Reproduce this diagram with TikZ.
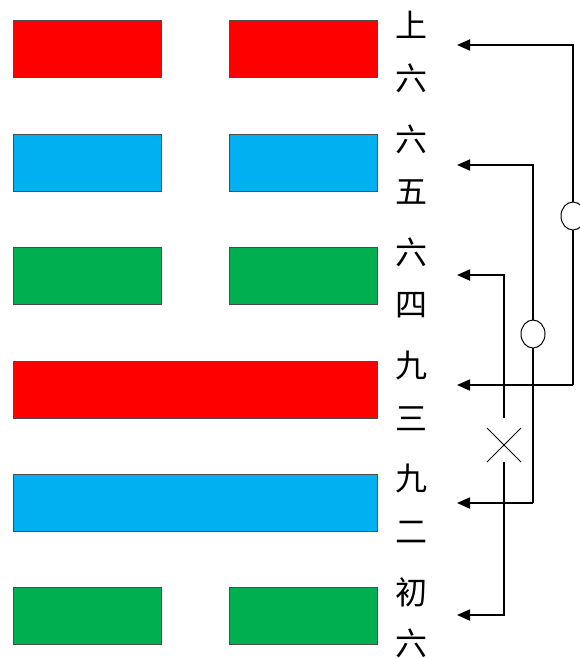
\documentclass[tikz,border=0pt]{standalone}
\usepackage{fontspec}
\newfontfamily\cjk{Noto Sans CJK SC}
\usetikzlibrary{arrows.meta,shapes.geometric}
\definecolor{yred}{HTML}{FF0000}
\definecolor{yblue}{HTML}{00B0F0}
\definecolor{ygreen}{HTML}{00B050}
\begin{document}
\begin{tikzpicture}[x=1pt,y=-1pt,
  bar/.style={draw=black!70, line width=0.8pt, minimum height=57pt, inner sep=0pt, rectangle},
  halfbar/.style={bar, minimum width=148pt},
  fullbar/.style={bar, minimum width=364pt},
  lbl/.style={font=\cjk\fontsize{32pt}{32pt}\selectfont, inner sep=0pt, anchor=center},
  link/.style={line width=1.8pt, -{Triangle[length=13pt,width=11pt]}},
  oval/.style={ellipse, draw, line width=1pt, minimum width=24pt, minimum height=28pt, inner sep=0pt, fill=white},
  cross/.style={line width=1pt}]
\useasboundingbox (0,0) rectangle (579,659);
% lines (hexagram)
\node[halfbar, fill=yred]   (l6a) at (87,49) {};
\node[halfbar, fill=yred]   (l6b) at (303,49) {};
\node[halfbar, fill=yblue]  (l5a) at (87,163) {};
\node[halfbar, fill=yblue]  (l5b) at (303,163) {};
\node[halfbar, fill=ygreen] (l4a) at (87,276) {};
\node[halfbar, fill=ygreen] (l4b) at (303,276) {};
\node[fullbar, fill=yred]   (l3)  at (195,389.5) {};
\node[fullbar, fill=yblue]  (l2)  at (195,502.5) {};
\node[halfbar, fill=ygreen] (l1a) at (87,615.5) {};
\node[halfbar, fill=ygreen] (l1b) at (303,615.5) {};
% labels
\node[lbl] (t6a) at (411,25) {上};
\node[lbl] (t6b) at (411,78) {六};
\node[lbl] (t5a) at (411,139) {六};
\node[lbl] (t5b) at (411,192) {五};
\node[lbl] (t4a) at (411,252) {六};
\node[lbl] (t4b) at (411,305) {四};
\node[lbl] (t3a) at (411,366) {九};
\node[lbl] (t3b) at (411,419) {三};
\node[lbl] (t2a) at (411,479) {九};
\node[lbl] (t2b) at (411,532) {二};
\node[lbl] (t1a) at (411,592) {初};
\node[lbl] (t1b) at (411,643) {六};
% arrow end points
\coordinate (e6) at (457,45);
\coordinate (e5) at (457,165);
\coordinate (e4) at (457,275);
\coordinate (e3) at (457,385);
\coordinate (e2) at (457,503);
\coordinate (e1) at (457,615);
% corners
\coordinate (c6) at (573,45);
\coordinate (c3) at (573,385);
\coordinate (c5) at (533,165);
\coordinate (c2) at (533,503);
\coordinate (c4) at (504,275);
\coordinate (c1) at (504,615);
% 6 <-> 3 (ying)
\draw[link] (c3) -- (e3);
\draw[link] (c3) -- (c6) -- (e6);
% 5 <-> 2 (ying)
\draw[link] (c2) -- (e2);
\draw[link] (c2) -- (c5) -- (e5);
% 4 <-> 1 (not ying)
\coordinate (xa) at (504,418);
\coordinate (xb) at (504,462);
\draw[link] (xa) -- (c4) -- (e4);
\draw[link] (xb) -- (c1) -- (e1);
\node[oval] (o63) at (573,216) {};
\node[oval] (o52) at (533,334) {};
\coordinate (x1) at (487,428);
\coordinate (x2) at (521,462);
\coordinate (x3) at (487,462);
\coordinate (x4) at (521,428);
\draw[cross] (x1) -- (x2);
\draw[cross] (x3) -- (x4);
\end{tikzpicture}
\end{document}
